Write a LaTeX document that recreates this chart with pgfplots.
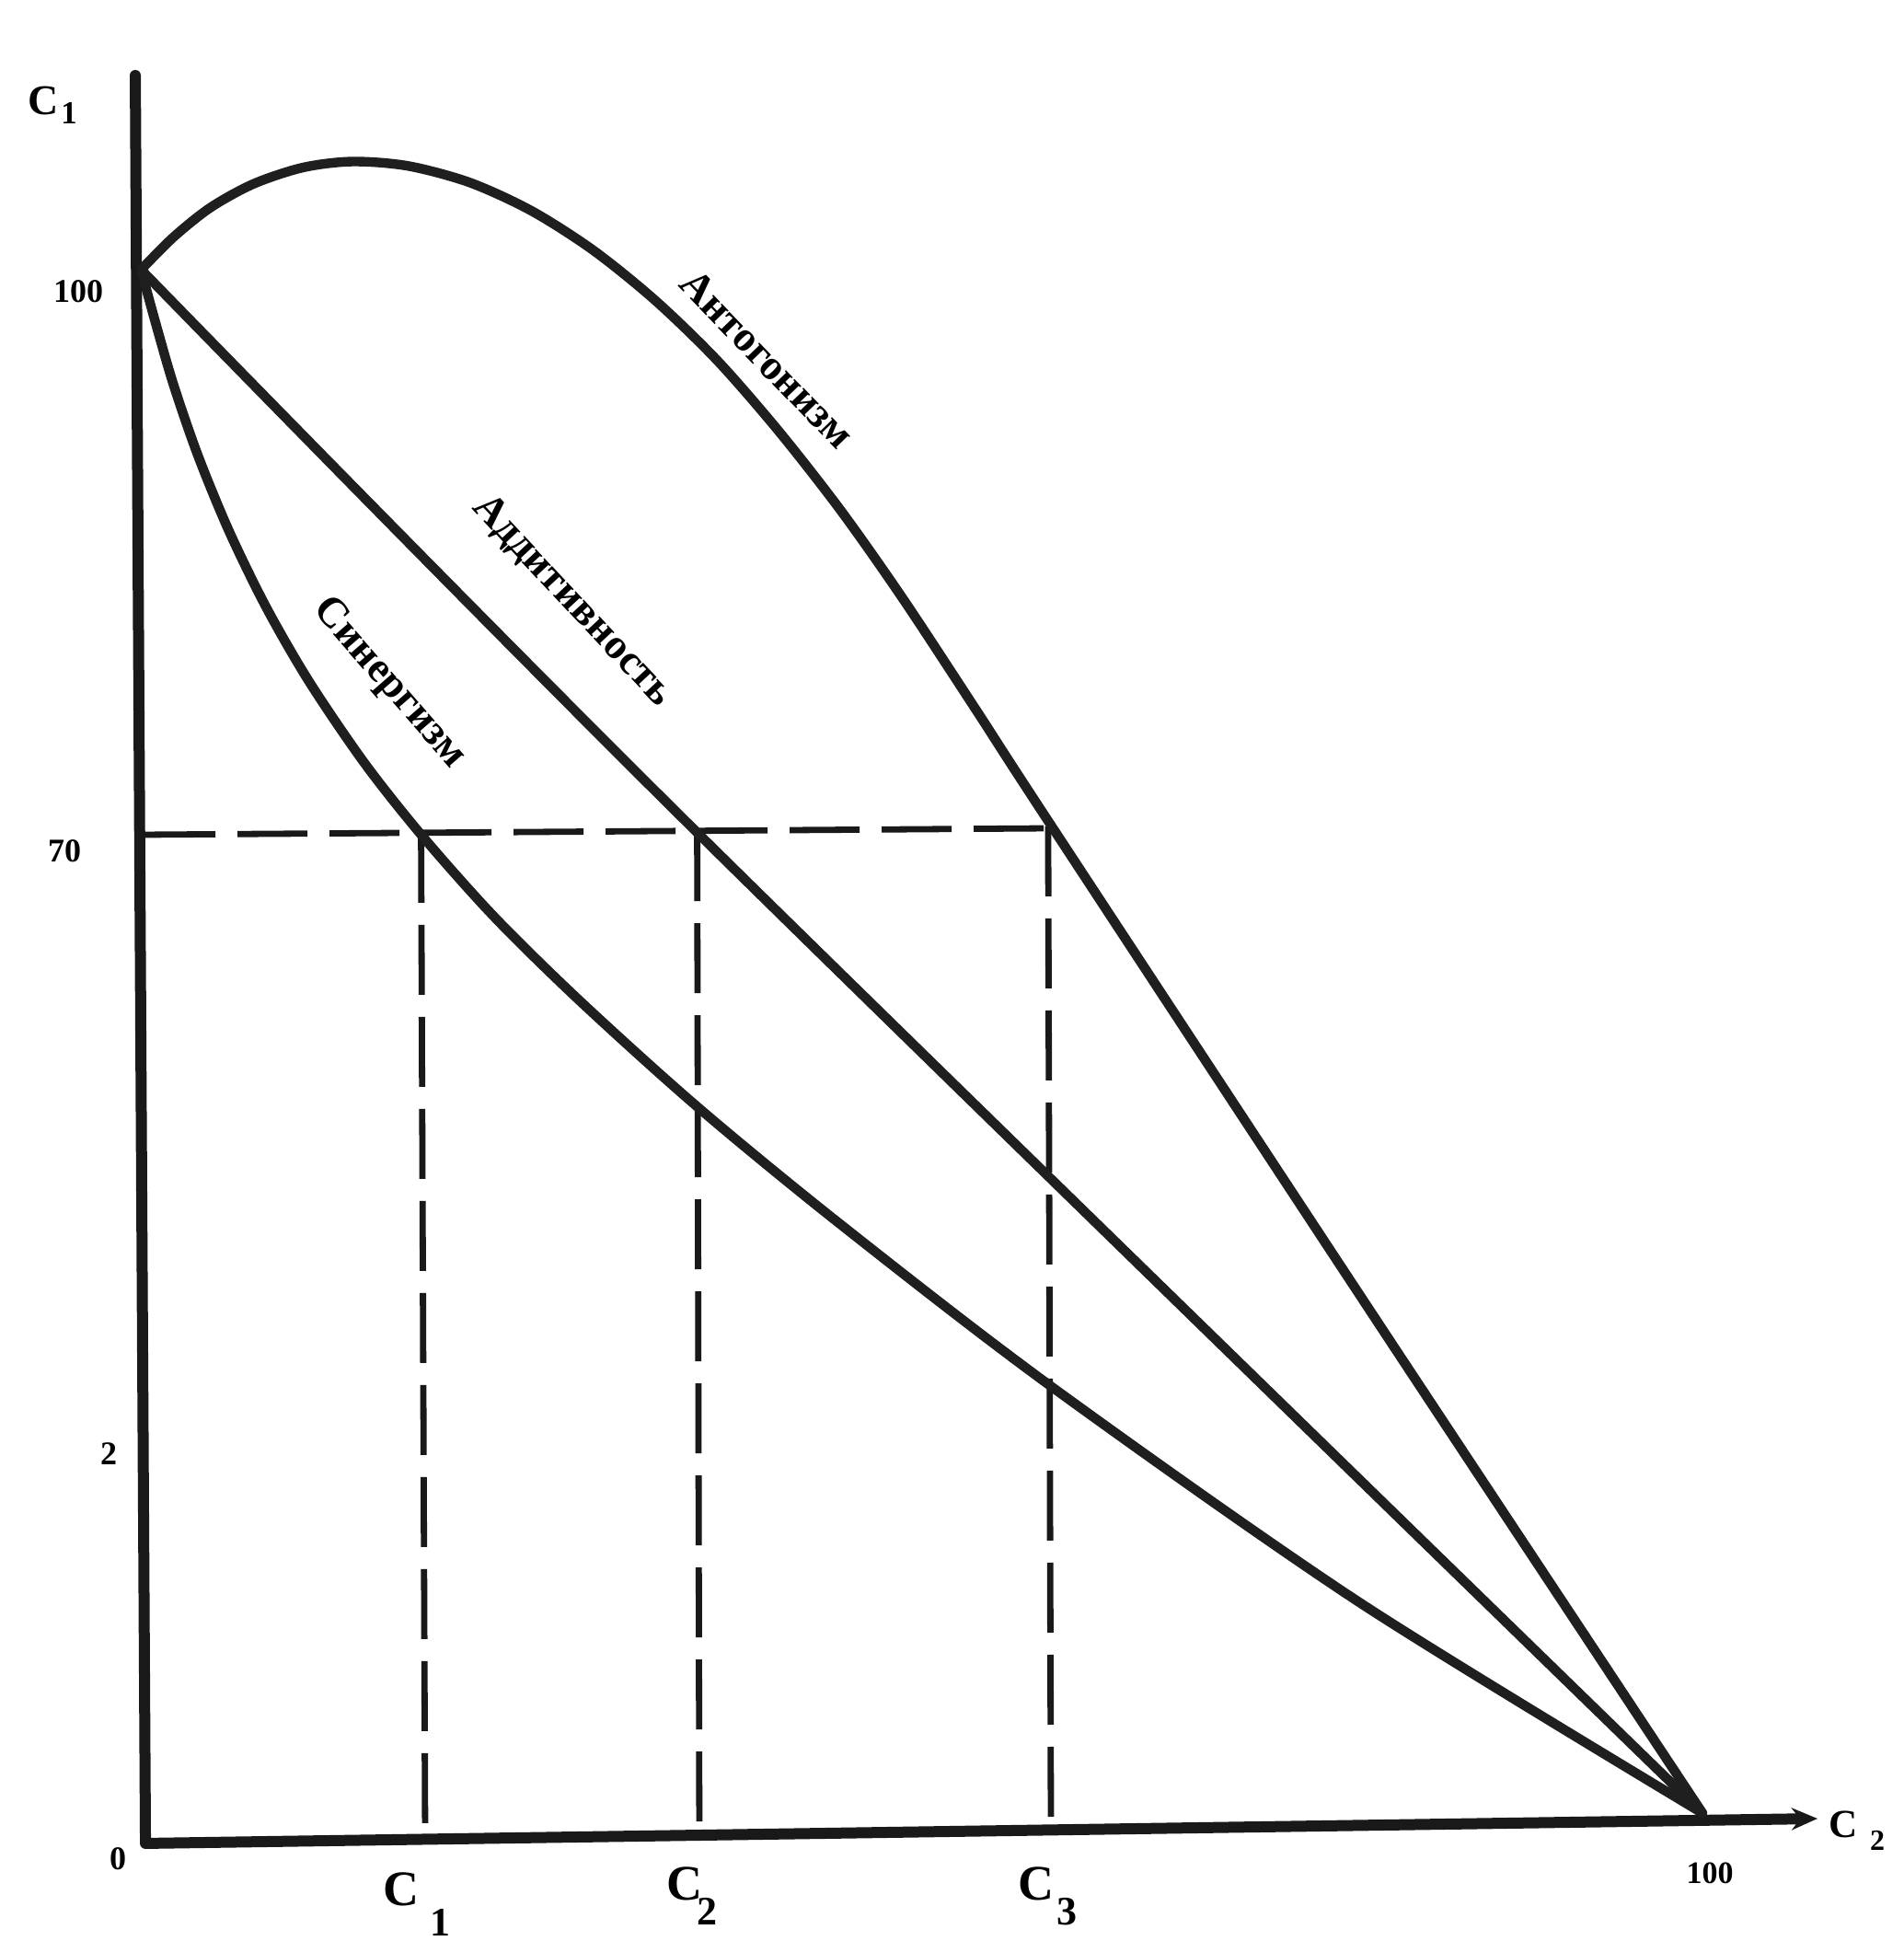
\documentclass[border=0pt]{standalone}
\usepackage{pgfplots}
\pgfplotsset{compat=1.18}
\usepackage{fontspec}
\setmainfont{Liberation Serif}
\usetikzlibrary{arrows.meta}
\begin{document}
\begin{tikzpicture}
\begin{axis}[
  width=517pt, height=527.25pt, scale only axis,
  xmin=-9.145, xmax=112.86, ymin=-7.316, ymax=117.11,
  hide axis, clip=false,
]
\path (rel axis cs:0,0) rectangle (rel axis cs:1,1);
% axes
\addplot[line width=3pt, black!90, line cap=round] coordinates {(-0.47,112.27) (0.18,-1.06)};
\addplot[line width=3pt, black!90, -{Stealth[length=7pt,width=6pt]}] coordinates {(0.18,-1.06) (107.37,0.53)};
% dashed guides
\addplot[line width=1.7pt, black!90, dash pattern=on 19pt off 6pt] coordinates {(0.18,63.60) (57.94,64.01)};
\addplot[line width=1.7pt, black!90, dash pattern=on 19pt off 6pt] coordinates {(17.85,63.72) (18.11,-0.59)};
\addplot[line width=1.7pt, black!90, dash pattern=on 19pt off 6pt] coordinates {(35.55,63.83) (35.69,-0.47)};
\addplot[line width=1.7pt, black!90, dash pattern=on 19pt off 6pt] coordinates {(58.05,64.13) (58.23,-0.29)};
% antagonism
\addplot[line width=2.6pt, black!88, smooth, line cap=round] coordinates {
(-0.10,99.82) (1.961,101.893) (4.341,103.798) (7.118,105.325) (10.290,106.373)
(13.464,106.753) (17.034,106.468) (21.000,105.397) (24.966,103.572) (28.932,101.033)
(32.899,97.819) (36.866,93.970) (40.831,89.407) (44.798,84.328) (48.764,78.694)
(53.524,71.457) (58.124,64.371) (78.909,32.757) (100.0,0.88)};
% additivity
\addplot[line width=2.6pt, black!88, smooth, line cap=round] coordinates {
(-0.10,99.82) (35.46,63.83) (100.0,0.88)};
% synergism
\addplot[line width=2.6pt, black!88, smooth, line cap=round] coordinates {
(-0.10,99.82) (0.771,96.619) (1.961,92.502) (3.548,87.899) (5.531,83.078) (7.911,78.198)
(10.687,73.393) (14.257,68.144) (17.985,63.446) (22.586,58.289) (28.139,52.845)
(35.675,46.060) (44.798,38.577) (58.283,28.206) (78.115,14.319) (100.0,0.88)};
% curve labels
\node[font=\bfseries\fontsize{11.5}{12}\selectfont, rotate=-49, inner sep=0pt] at (axis cs:15.78,73.30) {Синергизм};
\node[font=\bfseries\fontsize{11.5}{12}\selectfont, rotate=-47, inner sep=0pt] at (axis cs:27.55,78.58) {Аддитивность};
\node[font=\bfseries\fontsize{11.5}{12}\selectfont, rotate=-46, inner sep=0pt] at (axis cs:40.05,94.09) {Антогонизм};
% axis labels
\node[font=\bfseries\fontsize{11.5}{12}\selectfont, inner sep=0pt] at (axis cs:-6.37,110.62) {C};
\node[font=\bfseries\fontsize{8.7}{9}\selectfont, inner sep=0pt] at (axis cs:-4.72,109.85) {1};
\node[font=\bfseries\fontsize{10.8}{11}\selectfont, inner sep=0pt] at (axis cs:109.03,0.18) {C};
\node[font=\bfseries\fontsize{8}{9}\selectfont, inner sep=0pt] at (axis cs:111.21,-0.88) {2};
% y tick labels
\node[font=\bfseries\fontsize{9}{10}\selectfont, inner sep=0pt] at (axis cs:-4.13,98.41) {100};
\node[font=\bfseries\fontsize{9}{10}\selectfont, inner sep=0pt] at (axis cs:-5.01,62.54) {70};
\node[font=\bfseries\fontsize{9}{10}\selectfont, inner sep=0pt] at (axis cs:-2.18,23.89) {2};
\node[font=\bfseries\fontsize{9}{10}\selectfont, inner sep=0pt] at (axis cs:-1.59,-2.06) {0};
% x tick labels
\node[font=\bfseries\fontsize{13.5}{14}\selectfont, inner sep=0pt] at (axis cs:16.58,-4.01) {C};
\node[font=\bfseries\fontsize{11}{12}\selectfont, inner sep=0pt] at (axis cs:19.06,-6.14) {1};
\node[font=\bfseries\fontsize{13.5}{14}\selectfont, inner sep=0pt] at (axis cs:34.75,-3.66) {C};
\node[font=\bfseries\fontsize{11}{12}\selectfont, inner sep=0pt] at (axis cs:36.17,-5.43) {2};
\node[font=\bfseries\fontsize{13.5}{14}\selectfont, inner sep=0pt] at (axis cs:57.29,-3.66) {C};
\node[font=\bfseries\fontsize{11}{12}\selectfont, inner sep=0pt] at (axis cs:59.29,-5.43) {3};
\node[font=\bfseries\fontsize{8.5}{9}\selectfont, inner sep=0pt] at (axis cs:100.47,-2.95) {100};
\end{axis}
\end{tikzpicture}
\end{document}
